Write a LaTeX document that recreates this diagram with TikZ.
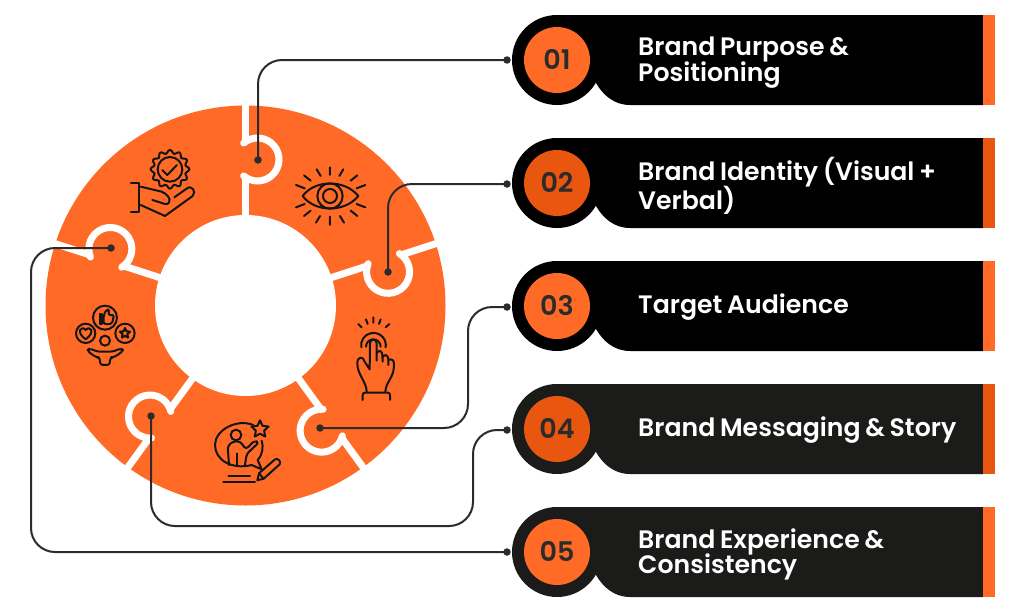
\documentclass[tikz,border=0pt]{standalone}
\usepackage{fontspec}
\setmainfont{Poppins}
\newfontfamily\barfont{Poppins}[UprightFont=* Medium,BoldFont=* SemiBold,WordSpace=0.78]
\definecolor{ringc}{HTML}{FF6B27}
\definecolor{deepc}{HTML}{E8560F}
\definecolor{inkc}{HTML}{2B2B2B}
\definecolor{softblack}{HTML}{1B1B1A}
\definecolor{iconc}{HTML}{141414}
\tikzset{
  zoomed/.style={shift={#1},scale=0.3333,yscale=-1,draw=iconc,line width=2pt,line join=round,line cap=round},
  conn/.style={draw=inkc,line width=2pt,rounded corners=24pt},
  dotn/.style={circle,fill=inkc,inner sep=0pt,minimum size=7.5pt},
  gapline/.style={draw=white,line width=7pt},
  numtext/.style={text=inkc,font=\barfont\bfseries\fontsize{27}{27}\selectfont},
  bartext/.style={text=white,anchor=west,align=left,inner sep=0pt,font=\barfont\bfseries\fontsize{25.2}{26}\selectfont}
}
\begin{document}
\begin{tikzpicture}[x=1pt,y=1pt]
\useasboundingbox (0,0) rectangle (1024,-613);
\fill[white] (0,0) rectangle (1024,-613);
% bars
\foreach \cy/\num/\barc/\acc/\nm/\txt/\dy in {
  60/01/black/ringc/1/{Brand Purpose \&\\[-1.6pt]Positioning}/2.5,
  183/02/black/deepc/2/{Brand Identity (Visual +\\[-1.6pt]Verbal)}/2.5,
  306/03/black/ringc/3/{Target Audience}/1.5,
  429/04/softblack/deepc/4/{Brand Messaging \& Story}/1.5,
  552/05/softblack/ringc/5/{Brand Experience \&\\[-1.6pt]Consistency}/2.5}{
  \fill[\barc] (557,-\cy) circle[radius=45pt];
  \fill[\barc] (557,-\cy+45) -- (983,-\cy+45) -- (983,-\cy-45) -- (630,-\cy-45)
     .. controls (614,-\cy-45) and (603,-\cy-35) .. (596,-\cy-23) -- (557,-\cy) -- cycle;
  \fill[\acc] (983,-\cy+45) rectangle (995,-\cy-45);
  \node[circle,fill=\acc,minimum size=66pt,inner sep=0pt] (n\nm) at (557,-\cy) {};
  \node[numtext] (m\nm) at (557,-\cy+0.7) {\num};
  \node[bartext] (t\nm) at (638,-\cy-\dy) {\txt};
}
% ring
\fill[ringc] (245.5,-305.5) circle[radius=200pt];
\begin{scope}[shift={(245.5,-305.5)}]
\foreach \a in {90,18,-54,-126,162}{
  \begin{scope}[rotate=\a]
    \draw[gapline] (85,0) -- (128,0);
    \draw[gapline] (164,0) -- (206,0);
    \draw[gapline,line cap=round] (146,-12) ++(40:21.5pt) arc[start angle=40,end angle=-220,radius=21.5pt];
  \end{scope}
}
\fill[white] (0,0) circle[radius=90.5pt];
\end{scope}
% eye icon
\begin{scope}[zoomed={(240,-90)}]
\draw (188,318) .. controls (225,268) and (315,268) .. (355,318) .. controls (315,368) and (225,368) .. cycle;
\draw (270,318) circle[radius=38pt];
\draw (270,318) circle[radius=21pt];
\draw (270,232)--(270,255) (310,238)--(298,258) (352,256)--(332,272) (376,285)--(350,295)
      (376,352)--(350,342) (352,378)--(332,362) (312,398)--(300,378) (270,405)--(270,380)
      (230,238)--(242,258) (192,256)--(212,272) (168,285)--(194,295)
      (168,352)--(194,342) (192,378)--(212,362) (228,398)--(240,378);
\end{scope}
% hand with badge
\begin{scope}[zoomed={(30,-90)}]
\draw plot[domain=0:357,samples=120] ({420+(53+5*cos(12*\x))*cos(\x)},{238+(53+5*cos(12*\x))*sin(\x)}) -- cycle;
\draw (420,238) circle[radius=37pt];
\draw (397,240) -- (412,255) -- (441,225);
\draw (303,279) -- (328,279) -- (328,365) -- (303,365);
\draw (332,290) -- (395,305) .. controls (425,318) and (425,345) .. (405,342) -- (367,330);
\draw (332,345) -- (405,378) -- (488,318) .. controls (500,305) and (485,283) .. (470,296) -- (433,322);
\end{scope}
% people with reactions
\begin{scope}[zoomed={(65,-300)}]
\draw (120,53) circle[radius=36pt];
\draw (62,100) circle[radius=29pt];
\draw (180,100) circle[radius=29pt];
\draw (120,122) circle[radius=15pt];
\draw[rounded corners=3pt] (66,152) -- (74,145) -- (97,155) -- (143,155) -- (168,145) -- (176,152) -- (147,172) -- (135,172) -- (135,195) -- (105,195) -- (105,172) -- (93,172) -- cycle;
\draw (106,42) rectangle (111,72);
\draw[rounded corners=2pt] (116,72) -- (116,45) -- (125,28) -- (133,30) -- (130,45) -- (147,45) -- (141,72) -- cycle;
\draw (62,118) .. controls (30,95) and (50,75) .. (62,90) .. controls (74,75) and (94,95) .. (62,118) -- cycle;
\draw plot[samples at={0,1,...,9}] ({180+(16-8.5*mod(\x,2))*cos(-90+36*\x)},{100+(16-8.5*mod(\x,2))*sin(-90+36*\x)}) -- cycle;
\end{scope}
% tapping hand
\begin{scope}[zoomed={(340,-310)}]
\draw (55,42)--(65,52) (78,28)--(83,42) (100,22)--(100,38) (122,28)--(117,42) (148,42)--(137,52);
\draw (64,112) arc[start angle=170,end angle=370,radius=37pt];
\draw (78,110) arc[start angle=180,end angle=360,radius=22pt];
\draw (68,270) -- (68,256) .. controls (68,250) and (70,248) .. (76,248) -- (142,248) .. controls (148,248) and (150,250) .. (150,256) -- (150,270);
\draw (80,246) .. controls (80,215) and (52,195) .. (52,160) .. controls (52,138) and (70,138) .. (74,155) -- (89,178) -- (90,100) .. controls (90,85) and (110,85) .. (110,100) -- (110,152);
\draw (110,130) .. controls (115,118) and (127,122) .. (127,135) -- (128,155);
\draw (128,142) .. controls (132,130) and (145,135) .. (145,148) -- (145,165);
\draw (145,150) .. controls (155,145) and (163,150) .. (162,165) .. controls (162,205) and (137,215) .. (136,246);
\end{scope}
% presenter icon
\begin{scope}[zoomed={(205,-410)}]
\draw (145,45) .. controls (95,25) and (30,60) .. (30,105) .. controls (30,150) and (80,180) .. (140,165) -- (170,178) -- (158,150) .. controls (175,130) and (175,110) .. (170,92);
\draw (93,75) circle[radius=16pt];
\draw[rounded corners=3pt] (72,165) -- (68,108) -- (85,94) -- (105,94) -- (123,118) -- (148,92) -- (162,97) -- (125,132) -- (120,165);
\draw (95,130) -- (95,168);
\draw plot[samples at={0,1,...,9}] ({165+(27-14*mod(\x,2))*cos(-90+36*\x)},{58+(27-14*mod(\x,2))*sin(-90+36*\x)}) -- cycle;
\draw (157,211) -- (162,190) -- (210,148) .. controls (218,143) and (230,155) .. (224,163) -- (176,206) -- cycle;
\draw (162,190) -- (176,206);
\draw (70,197) -- (135,197) (55,215) -- (150,215);
\end{scope}
% connectors
\foreach \nm/\px/\py in {1/258/160,2/388/272,3/320/428,4/151/416,5/111/248}{
  \node[dotn] (d\nm) at (\px,-\py) {};
}
\node[dotn] (e1) at (507,-60) {};
\node[dotn] (e2) at (507,-184) {};
\node[dotn] (e3) at (507,-307) {};
\node[dotn] (e4) at (507,-430) {};
\node[dotn] (e5) at (507,-552) {};
\coordinate (k3) at (468,-428);
\coordinate (k4) at (473,-526);
\coordinate (k5) at (31,-248);
\draw[conn] (e1.center) -| (d1.center);
\draw[conn] (e2.center) -| (d2.center);
\draw[conn] (e3.center) -| (k3) -- (d3.center);
\draw[conn] (e4.center) -| (k4) -| (d4.center);
\draw[conn] (e5.center) -| (k5) -- (d5.center);
\end{tikzpicture}
\end{document}
